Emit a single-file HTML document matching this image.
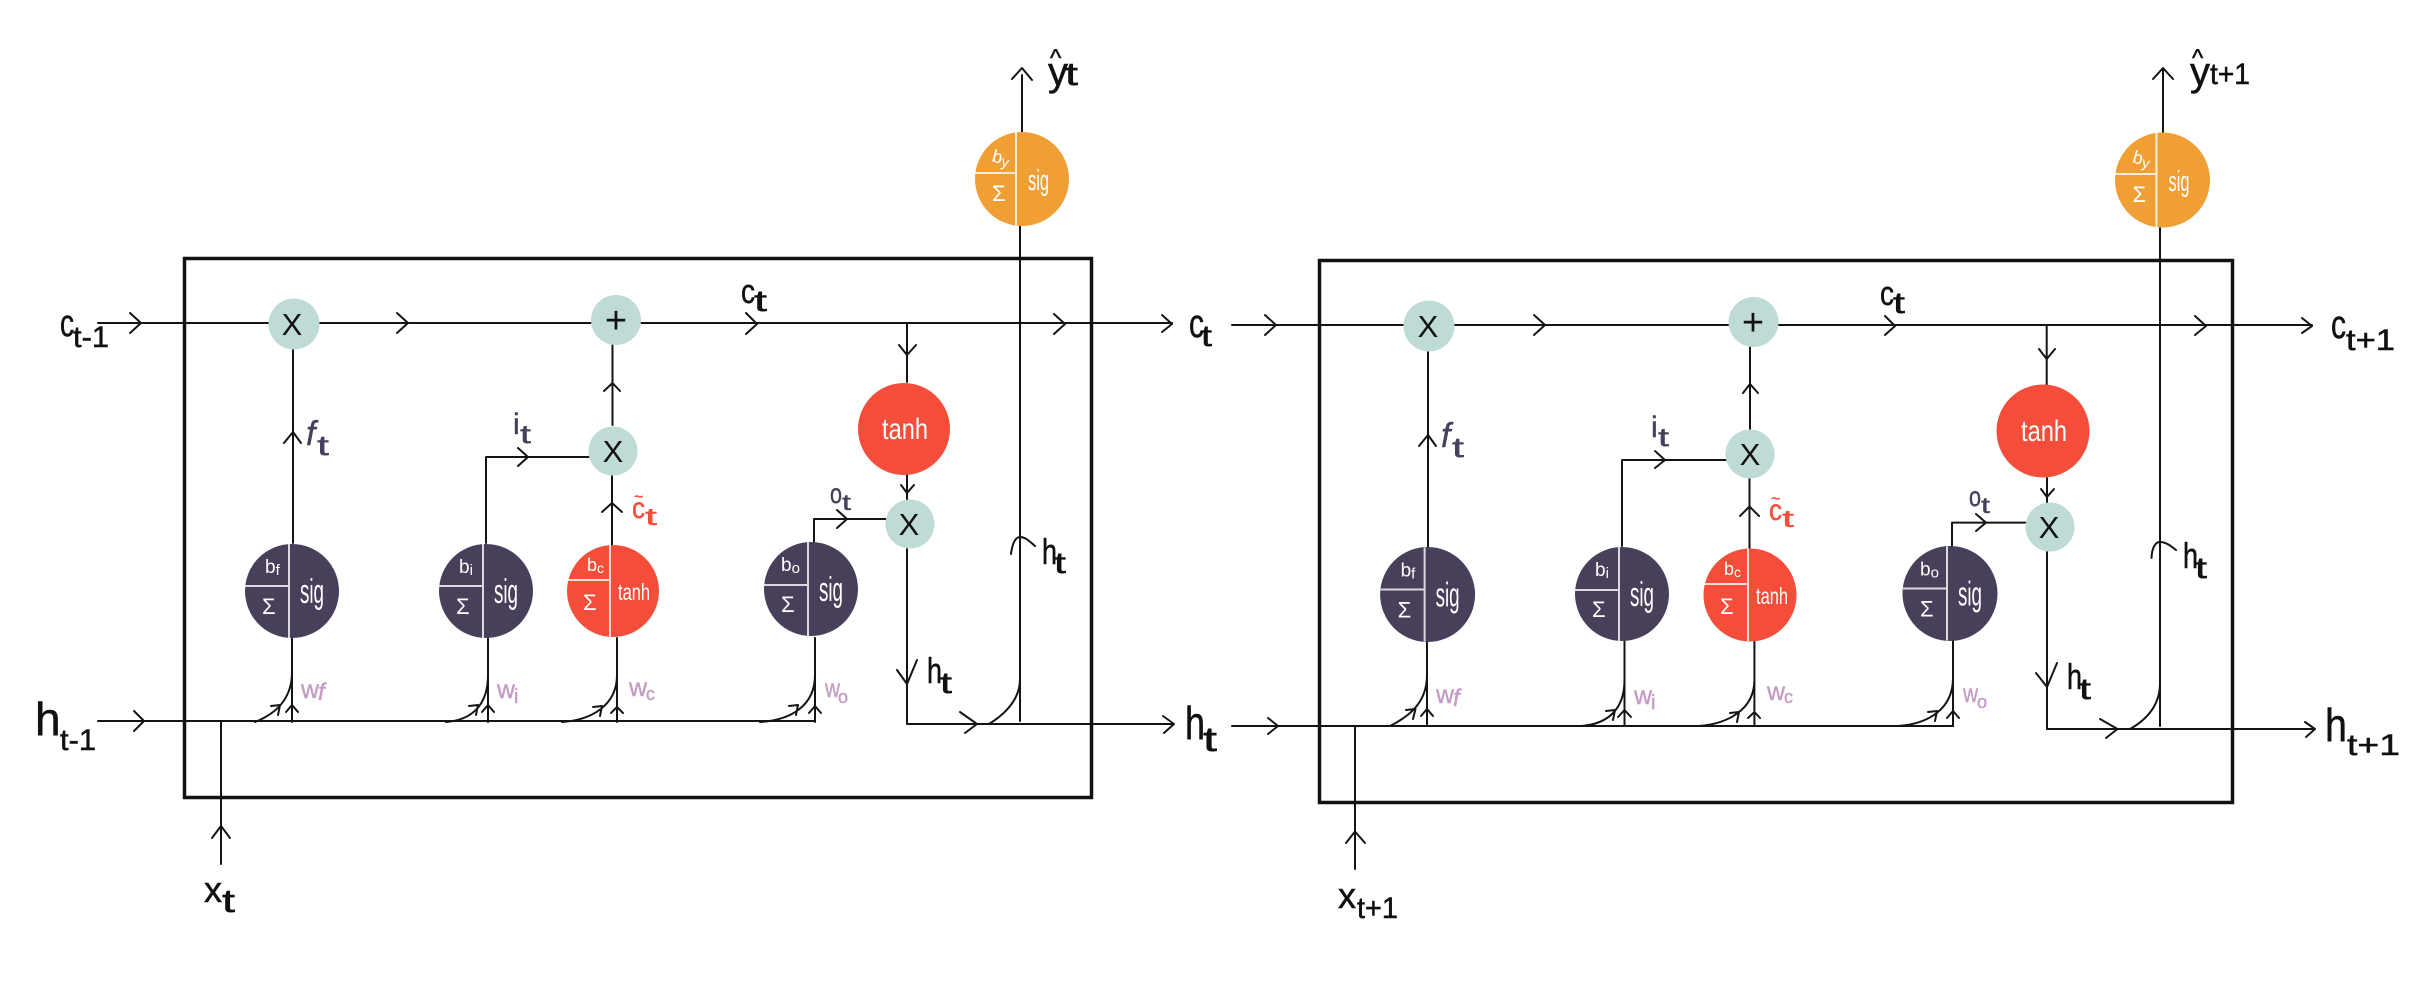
<!DOCTYPE html>
<html><head><meta charset="utf-8"><style>
html,body{margin:0;padding:0;background:#fff}
svg{display:block}
.l{fill:none;stroke:#141414;stroke-width:2;stroke-linecap:round;stroke-linejoin:round}
.b{fill:none;stroke:#111;stroke-width:3.5}
.d{stroke:#fff;stroke-opacity:.8;stroke-width:2}
text{font-family:"Liberation Sans",sans-serif}
.k{fill:#111;stroke:#111;stroke-width:.5}
.p{fill:#48405a;stroke:#48405a;stroke-width:.4}
.r{fill:#f44e3b;stroke:#f44e3b;stroke-width:.4}
.u{fill:#c49cc4;stroke:#c49cc4;stroke-width:.4}
.w{fill:#fff}
.s{fill:#fff}
.o{fill:#111;text-anchor:middle}
</style></head><body>
<svg xmlns="http://www.w3.org/2000/svg" width="2421" height="1000" viewBox="0 0 2421 1000">
<rect width="2421" height="1000" fill="#fff"/>

<!-- LEFT CELL -->
<rect class="b" x="184.5" y="258.5" width="907" height="539"/>
<path class="l" d="M98 323H1172M130 313L141 323L130 333M397 313L408 323L397 333M746 313L757 324L746 334M1054 314L1065 324L1054 334M1162 315L1172 324L1162 332"/>
<path class="l" d="M293 350V543M284 443L293 432L301 443"/>
<path class="l" d="M612.500 345V425M604 391L612.500 383L620 391"/>
<path class="l" d="M486 543V457H589M518 448L528 457L518 466"/>
<path class="l" d="M612 476V545M602 512L612 503L622 512"/>
<path class="l" d="M98 721H815V638M134 711L144 721L134 731"/>
<path class="l" d="M292 638V722M286 712L292 705L298 712M255 722C275 714 292 700 292 672M271 706L280 705L278 715"/>
<path class="l" d="M488 638V722M482 712L488 705L494 712M446 722C472 720 488 705 488 675M469 706L478 705L476 715"/>
<path class="l" d="M617 638V722M611 713L617 707L623 713M562 722C592 720 617 705 617 675M593 707L602 706L600 716"/>
<path class="l" d="M815 638V722M809 713L815 706L821 713M760 722C792 720 815 705 815 675M789 706L798 705L796 715"/>
<path class="l" d="M221 722V864M212 838L221 826L230 838"/>
<path class="l" d="M907 324V382M899 345L907 355L916 345"/>
<path class="l" d="M907 475V500M901 485L907 493L914 485"/>
<path class="l" d="M814 542V519H886M837 510L847 519L837 528"/>
<path class="l" d="M907 549V724H1174M897 670L907 684L917 660M960 712L977 724L965 733M1163 716L1174 724L1164 733"/>
<path class="l" d="M1020 721V225M1011 554C1012 545 1015 537 1020 537C1026 537 1030 542 1035 546"/>
<path class="l" d="M989 724C1005 714 1020 700 1020 679"/>
<path class="l" d="M1022 132V75M1012 79L1022 68L1032 80"/>

<circle cx="294" cy="324" r="25.500" fill="#bfdbd5"/>
<circle cx="616" cy="320" r="25" fill="#bfdbd5"/>
<circle cx="613" cy="451" r="24.500" fill="#bfdbd5"/>
<circle cx="910" cy="524" r="24.500" fill="#bfdbd5"/>
<text class="o" x="292" y="335" font-size="31">X</text>
<text class="o" x="616" y="333" font-size="38">+</text>
<text class="o" x="613" y="462" font-size="31">X</text>
<text class="o" x="909" y="535" font-size="31">X</text>

<circle cx="904" cy="429" r="46" fill="#f44e3b"/>
<text class="w" x="882" y="439" font-size="30" textLength="46" lengthAdjust="spacingAndGlyphs">tanh</text>

<g transform="translate(292,591)"><circle r="47" fill="#48405a"/><path class="d" d="M-3 -47V47M-47 -5H-3"/><text class="w" x="-27" y="-18" font-size="19">b<tspan font-size="15" dy="2">f</tspan></text><text class="s" x="-30" y="23" font-size="22">Σ</text><text class="w" x="8" y="12" font-size="34" textLength="24" lengthAdjust="spacingAndGlyphs">sig</text></g>
<g transform="translate(486,591)"><circle r="47" fill="#48405a"/><path class="d" d="M-3 -47V47M-47 -5H-3"/><text class="w" x="-27" y="-18" font-size="19">b<tspan font-size="15" dy="2">i</tspan></text><text class="s" x="-30" y="23" font-size="22">Σ</text><text class="w" x="8" y="12" font-size="34" textLength="24" lengthAdjust="spacingAndGlyphs">sig</text></g>
<g transform="translate(613,591)"><circle r="46" fill="#f44e3b"/><path class="d" d="M-3 -46V46M-46 -11H-3"/><text class="w" x="-26" y="-20" font-size="18">b<tspan font-size="14" dy="2">c</tspan></text><text class="s" x="-30" y="19" font-size="22">Σ</text><text class="w" x="5" y="9" font-size="23" textLength="32" lengthAdjust="spacingAndGlyphs">tanh</text></g>
<g transform="translate(811,589)"><circle r="47" fill="#48405a"/><path class="d" d="M-3 -47V47M-47 -4H-3"/><text class="w" x="-30" y="-18" font-size="19">b<tspan font-size="15" dy="2">o</tspan></text><text class="s" x="-30" y="23" font-size="22">Σ</text><text class="w" x="8" y="12" font-size="34" textLength="24" lengthAdjust="spacingAndGlyphs">sig</text></g>
<g transform="translate(1022,179)"><circle r="47" fill="#f09f35"/><path class="d" d="M-6 -47V47M-47 -6H-6"/><text class="w" x="-30" y="-16" font-size="18" transform="rotate(15 -24 -20)">b<tspan font-size="15" dy="2">y</tspan></text><text class="s" x="-30" y="22" font-size="22">Σ</text><text class="w" x="6" y="11" font-size="29" textLength="21" lengthAdjust="spacingAndGlyphs">sig</text></g>

<text class="k" x="60" y="336" font-size="38" textLength="14" lengthAdjust="spacingAndGlyphs">c</text><text class="k" x="73" y="347" font-size="30" textLength="36" lengthAdjust="spacingAndGlyphs">t-1</text>
<text class="k" x="741" y="303" font-size="34" textLength="14" lengthAdjust="spacingAndGlyphs">c</text><text class="k" x="754" y="311" font-size="30" textLength="13" lengthAdjust="spacingAndGlyphs">t</text>
<text class="k" x="1189" y="337" font-size="40" textLength="15" lengthAdjust="spacingAndGlyphs">c</text><text class="k" x="1201" y="346" font-size="30" textLength="11" lengthAdjust="spacingAndGlyphs">t</text>
<text class="k" x="35" y="735" font-size="46">h</text><text class="k" x="60" y="750" font-size="30" textLength="36" lengthAdjust="spacingAndGlyphs">t-1</text>
<text class="k" x="204" y="902" font-size="36">x</text><text class="k" x="222" y="912" font-size="32" textLength="13" lengthAdjust="spacingAndGlyphs">t</text>
<text class="k" x="927" y="683" font-size="36" textLength="15" lengthAdjust="spacingAndGlyphs">h</text><text class="k" x="940" y="693" font-size="30" textLength="12" lengthAdjust="spacingAndGlyphs">t</text>
<text class="k" x="1042" y="564" font-size="36" textLength="15" lengthAdjust="spacingAndGlyphs">h</text><text class="k" x="1054" y="573" font-size="30" textLength="12" lengthAdjust="spacingAndGlyphs">t</text>
<text class="k" x="1185" y="739" font-size="46" textLength="20" lengthAdjust="spacingAndGlyphs">h</text><text class="k" x="1203" y="751" font-size="34" textLength="14" lengthAdjust="spacingAndGlyphs">t</text>
<text class="k" x="1048" y="85" font-size="40">y</text><text class="k" x="1050" y="66" font-size="24">^</text><text class="k" x="1065" y="85" font-size="32" textLength="13" lengthAdjust="spacingAndGlyphs">t</text>
<text class="p" x="306" y="445" font-size="34" font-style="italic">f</text><text class="p" x="317" y="455" font-size="28" textLength="12" lengthAdjust="spacingAndGlyphs">t</text>
<text class="p" x="513" y="434" font-size="30">i</text><text class="p" x="520" y="443" font-size="26" textLength="11" lengthAdjust="spacingAndGlyphs">t</text>
<text class="p" x="830" y="503" font-size="28" textLength="12" lengthAdjust="spacingAndGlyphs">o</text><text class="p" x="842" y="510" font-size="22" textLength="9" lengthAdjust="spacingAndGlyphs">t</text>
<text class="r" x="632" y="518" font-size="30" textLength="13" lengthAdjust="spacingAndGlyphs">c</text><text class="r" x="634" y="502" font-size="16">~</text><text class="r" x="645" y="525" font-size="24" textLength="12" lengthAdjust="spacingAndGlyphs">t</text>
<text class="u" x="301" y="698" font-size="26" textLength="18" lengthAdjust="spacingAndGlyphs">w</text><text class="u" x="318" y="700" font-size="24" font-style="italic">f</text>
<text class="u" x="497" y="698" font-size="26" textLength="18" lengthAdjust="spacingAndGlyphs">w</text><text class="u" x="514" y="703" font-size="20">i</text>
<text class="u" x="629" y="696" font-size="26" textLength="18" lengthAdjust="spacingAndGlyphs">w</text><text class="u" x="646" y="700" font-size="18">c</text>
<text class="u" x="825" y="697" font-size="26" textLength="15" lengthAdjust="spacingAndGlyphs">w</text><text class="u" x="838" y="703" font-size="18">o</text>

<!-- RIGHT CELL -->
<rect class="b" x="1319.500" y="260.500" width="913" height="542"/>
<path class="l" d="M1232 325H2312M1265 315L1276 325L1265 335M1534 315L1545 325L1534 335M1885 316L1895 326L1885 335M2195 316L2206 326L2195 335M2302 318L2312 326L2302 333"/>
<path class="l" d="M1428 352V547M1419 446L1428 435L1436 446"/>
<path class="l" d="M1750 347V430M1743 393L1750 384L1758 393"/>
<path class="l" d="M1622 546V460H1726M1655 451L1665 460L1655 468"/>
<path class="l" d="M1749.500 479V548M1740 516L1749.500 506.500L1759 516"/>
<path class="l" d="M1232 726H1953V641M1268 718L1278 726L1268 734"/>
<path class="l" d="M1427 641V726M1421 716L1427 709L1433 716M1390 726C1410 716 1427 702 1427 675M1406 710L1415.500 709L1413 719"/>
<path class="l" d="M1624.500 641V726M1618 717L1624.500 710L1631 717M1581.600 726C1607 724 1624.500 710 1624.500 680M1606 711L1615 710L1613 720"/>
<path class="l" d="M1754.400 641V726M1748 718L1754.400 712L1760 718M1698.600 726C1727 724 1754.400 710 1754.400 680M1730 713L1739 712L1737 722"/>
<path class="l" d="M1953 641V726M1947 718L1953 711L1959 718M1898 726C1927 724 1953 710 1953 678M1928 712L1937 711L1935 721"/>
<path class="l" d="M1355 726V869M1346 843L1355 831.500L1365 843"/>
<path class="l" d="M2046.700 326V385M2039 349L2046.700 359L2055 349"/>
<path class="l" d="M2047 478V503M2041 489L2047 497L2054 489"/>
<path class="l" d="M1952 546V522.600H2026M1976 514L1986 522.600L1976 531"/>
<path class="l" d="M2047 552V729H2315M2036 673L2047 687L2057 663M2100 719L2117.500 729L2106 738M2305 722L2315 729L2306 737"/>
<path class="l" d="M2160 726V227M2151.500 558C2152 548 2155 542 2160 542C2166 542 2171 546 2176 550"/>
<path class="l" d="M2130 729C2146 720 2160 706 2160 683"/>
<path class="l" d="M2163 132V70M2153 79L2163 68L2173 79"/>

<circle cx="1429" cy="326" r="25.500" fill="#bfdbd5"/>
<circle cx="1753.500" cy="322" r="25" fill="#bfdbd5"/>
<circle cx="1750" cy="454" r="24.500" fill="#bfdbd5"/>
<circle cx="2050" cy="527" r="24.500" fill="#bfdbd5"/>
<text class="o" x="1428" y="337" font-size="31">X</text>
<text class="o" x="1753" y="335" font-size="38">+</text>
<text class="o" x="1750" y="465" font-size="31">X</text>
<text class="o" x="2049" y="538" font-size="31">X</text>

<circle cx="2043" cy="431" r="46.500" fill="#f44e3b"/>
<text class="w" x="2021" y="441" font-size="30" textLength="46" lengthAdjust="spacingAndGlyphs">tanh</text>

<g transform="translate(1427.600,594.500)"><circle r="47.500" fill="#48405a"/><path class="d" d="M-3 -47V47M-47 -5H-3"/><text class="w" x="-27" y="-18" font-size="19">b<tspan font-size="15" dy="2">f</tspan></text><text class="s" x="-30" y="23" font-size="22">Σ</text><text class="w" x="8" y="12" font-size="34" textLength="24" lengthAdjust="spacingAndGlyphs">sig</text></g>
<g transform="translate(1622,594)"><circle r="47" fill="#48405a"/><path class="d" d="M-3 -47V47M-47 -4H-3"/><text class="w" x="-27" y="-18" font-size="19">b<tspan font-size="15" dy="2">i</tspan></text><text class="s" x="-30" y="23" font-size="22">Σ</text><text class="w" x="8" y="12" font-size="34" textLength="24" lengthAdjust="spacingAndGlyphs">sig</text></g>
<g transform="translate(1750,595)"><circle r="46.500" fill="#f44e3b"/><path class="d" d="M-2 -46V46M-46 -11H-2"/><text class="w" x="-26" y="-20" font-size="18">b<tspan font-size="14" dy="2">c</tspan></text><text class="s" x="-30" y="19" font-size="22">Σ</text><text class="w" x="6" y="9" font-size="23" textLength="32" lengthAdjust="spacingAndGlyphs">tanh</text></g>
<g transform="translate(1950,593.500)"><circle r="47.500" fill="#48405a"/><path class="d" d="M-3 -47V47M-47 -5H-3"/><text class="w" x="-30" y="-18" font-size="19">b<tspan font-size="15" dy="2">o</tspan></text><text class="s" x="-30" y="23" font-size="22">Σ</text><text class="w" x="8" y="12" font-size="34" textLength="24" lengthAdjust="spacingAndGlyphs">sig</text></g>
<g transform="translate(2162.500,180)"><circle r="47.500" fill="#f09f35"/><path class="d" d="M-6 -47V47M-47 -6H-6"/><text class="w" x="-30" y="-16" font-size="18" transform="rotate(15 -24 -20)">b<tspan font-size="15" dy="2">y</tspan></text><text class="s" x="-30" y="22" font-size="22">Σ</text><text class="w" x="6" y="11" font-size="29" textLength="21" lengthAdjust="spacingAndGlyphs">sig</text></g>

<text class="k" x="1880" y="305" font-size="34" textLength="14" lengthAdjust="spacingAndGlyphs">c</text><text class="k" x="1893" y="313" font-size="30" textLength="12" lengthAdjust="spacingAndGlyphs">t</text>
<text class="k" x="2331" y="338" font-size="40" textLength="15" lengthAdjust="spacingAndGlyphs">c</text><text class="k" x="2346" y="350" font-size="30" textLength="49" lengthAdjust="spacingAndGlyphs">t+1</text>
<text class="k" x="2325" y="741" font-size="46" textLength="22" lengthAdjust="spacingAndGlyphs">h</text><text class="k" x="2347" y="755" font-size="30" textLength="53" lengthAdjust="spacingAndGlyphs">t+1</text>
<text class="k" x="2067" y="689" font-size="36" textLength="15" lengthAdjust="spacingAndGlyphs">h</text><text class="k" x="2079" y="699" font-size="30" textLength="12" lengthAdjust="spacingAndGlyphs">t</text>
<text class="k" x="2183" y="568" font-size="36" textLength="15" lengthAdjust="spacingAndGlyphs">h</text><text class="k" x="2195" y="578" font-size="30" textLength="12" lengthAdjust="spacingAndGlyphs">t</text>
<text class="k" x="1338" y="908" font-size="36">x</text><text class="k" x="1357" y="918" font-size="30" textLength="41" lengthAdjust="spacingAndGlyphs">t+1</text>
<text class="k" x="2190" y="85" font-size="40">y</text><text class="k" x="2192" y="66" font-size="24">^</text><text class="k" x="2210" y="84" font-size="30" textLength="40" lengthAdjust="spacingAndGlyphs">t+1</text>
<text class="p" x="1441" y="447" font-size="34" font-style="italic">f</text><text class="p" x="1452" y="457" font-size="28" textLength="12" lengthAdjust="spacingAndGlyphs">t</text>
<text class="p" x="1651" y="437" font-size="30">i</text><text class="p" x="1658" y="446" font-size="26" textLength="11" lengthAdjust="spacingAndGlyphs">t</text>
<text class="p" x="1969" y="506" font-size="28" textLength="12" lengthAdjust="spacingAndGlyphs">o</text><text class="p" x="1981" y="513" font-size="22" textLength="9" lengthAdjust="spacingAndGlyphs">t</text>
<text class="r" x="1769" y="520" font-size="30" textLength="13" lengthAdjust="spacingAndGlyphs">c</text><text class="r" x="1771" y="504" font-size="16">~</text><text class="r" x="1782" y="527" font-size="24" textLength="12" lengthAdjust="spacingAndGlyphs">t</text>
<text class="u" x="1436" y="703" font-size="26" textLength="18" lengthAdjust="spacingAndGlyphs">w</text><text class="u" x="1453" y="706" font-size="24" font-style="italic">f</text>
<text class="u" x="1634" y="704" font-size="26" textLength="18" lengthAdjust="spacingAndGlyphs">w</text><text class="u" x="1651" y="709" font-size="20">i</text>
<text class="u" x="1767" y="700" font-size="26" textLength="18" lengthAdjust="spacingAndGlyphs">w</text><text class="u" x="1784" y="703" font-size="18">c</text>
<text class="u" x="1963" y="702" font-size="26" textLength="15" lengthAdjust="spacingAndGlyphs">w</text><text class="u" x="1977" y="708" font-size="18">o</text>
</svg>
</body></html>
